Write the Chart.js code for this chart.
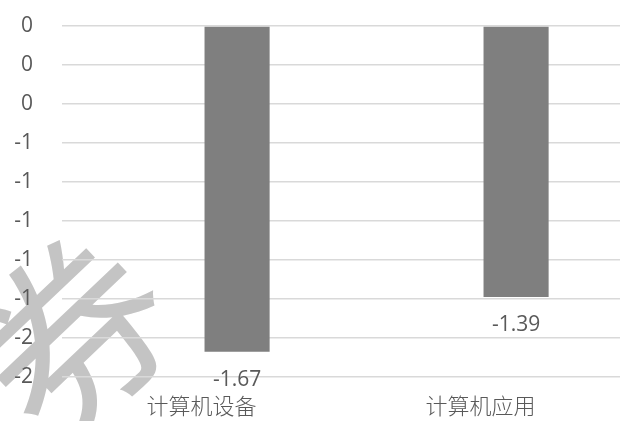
<!DOCTYPE html>
<html>
<head>
<meta charset="utf-8">
<script src="https://cdn.jsdelivr.net/npm/chart.js@4/dist/chart.umd.min.js"></script>
<style>
    html, body { margin: 0; padding: 0; background: #fff; overflow: hidden; }
    #chart { display: block; }
</style>
</head>
<body>
<canvas id="chart" width="622" height="421"></canvas>
<script>
const categories = ['计算机设备', '计算机应用'];
const blankSeries = [null, null];
const changeValues = [-1.67, -1.39];
const yTickLabels = ['0', '0', '0', '-1', '-1', '-1', '-1', '-1', '-2', '-2'];

const textColor = '#595959';
const gridColor = '#d9d9d9';
const barColor = '#7f7f7f';
const numFont = "'Open Sans', 'Liberation Sans', sans-serif";
const cjkFont = "'Noto Sans CJK SC', sans-serif";

// faint stamp behind the plot
const stampPlugin = {
    id: 'stamp',
    beforeDraw(chart) {
        const ctx = chart.ctx;
        ctx.save();
        ctx.translate(72, 336);
        ctx.rotate(-0.76);
        ctx.fillStyle = '#c4c4c4';
        ctx.font = "190px " + cjkFont;
        ctx.textAlign = 'center';
        ctx.textBaseline = 'middle';
        ctx.fillText('证券', -95, 0);
        ctx.restore();
    }
};

// value text under each bar end
const valueLabels = {
    id: 'valueLabels',
    afterDatasetsDraw(chart) {
        const ctx = chart.ctx;
        const meta = chart.getDatasetMeta(1);
        ctx.save();
        ctx.fillStyle = textColor;
        ctx.font = "21px " + numFont;
        ctx.textAlign = 'center';
        ctx.textBaseline = 'middle';
        meta.data.forEach((bar, i) => {
            ctx.fillText(changeValues[i].toFixed(2), bar.x, bar.y + 28);
        });
        ctx.restore();
    }
};

new Chart(document.getElementById('chart'), {
    type: 'bar',
    data: {
        labels: categories,
        datasets: [
            { data: blankSeries, backgroundColor: barColor },
            { data: changeValues, backgroundColor: barColor, borderWidth: 0 }
        ]
    },
    options: {
        responsive: false,
        animation: false,
        categoryPercentage: 0.51,
        barPercentage: 0.915,
        layout: { padding: { left: 0, right: 2, top: 26, bottom: 0 } },
        plugins: {
            legend: { display: false },
            tooltip: { enabled: false }
        },
        scales: {
            x: {
                grid: { display: false, drawTicks: false },
                border: { display: false },
                ticks: { color: textColor, font: { family: cjkFont, size: 22, weight: 300 }, padding: 15, maxRotation: 0 },
                afterFit(scale) {
                    scale.height = 44;
                    scale.paddingLeft = 0;
                    scale.paddingRight = 0;
                }
            },
            y: {
                min: -1.8,
                max: 0,
                grid: { color: gridColor, lineWidth: 1.4, drawTicks: false },
                border: { display: false },
                ticks: {
                    stepSize: 0.2,
                    color: textColor,
                    font: { family: numFont, size: 21 },
                    padding: 29,
                    callback: (value, i, ticks) => yTickLabels[ticks.length - 1 - i]
                },
                afterFit(scale) {
                    scale.width = 62;
                    scale.paddingTop = 0;
                    scale.paddingBottom = 0;
                }
            }
        }
    },
    plugins: [stampPlugin, valueLabels]
});
</script>
</body>
</html>
